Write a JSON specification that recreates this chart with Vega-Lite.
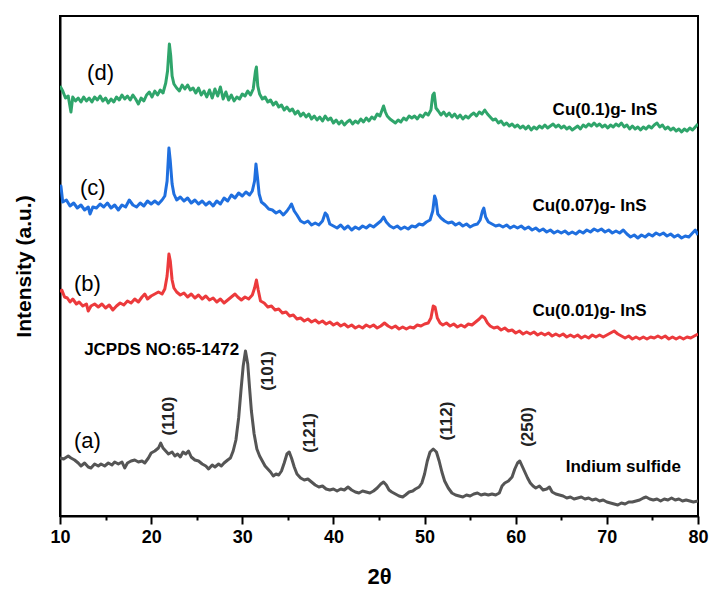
{
"$schema": "https://vega.github.io/schema/vega-lite/v6.json",
"width": 638, "height": 500,
"autosize": "none",
"padding": {"left": 60, "top": 16, "right": 15, "bottom": 77},
"background": "white",
"config": {"view": {"stroke": "black", "strokeWidth": 2}, "font": "Liberation Sans"},
"datasets": {
"curves": [
{"s":"d","t":10.0,"i":430},{"s":"d","t":10.3,"i":425},{"s":"d","t":10.6,"i":418},{"s":"d","t":10.9,"i":420},{"s":"d","t":11.2,"i":404},{"s":"d","t":11.4,"i":419},{"s":"d","t":11.7,"i":415},{"s":"d","t":12.0,"i":418},{"s":"d","t":12.3,"i":414},{"s":"d","t":12.6,"i":419},{"s":"d","t":12.9,"i":415},{"s":"d","t":13.2,"i":418},{"s":"d","t":13.5,"i":414},{"s":"d","t":13.8,"i":419},{"s":"d","t":14.1,"i":416},{"s":"d","t":14.4,"i":420},{"s":"d","t":14.7,"i":415},{"s":"d","t":15.0,"i":418},{"s":"d","t":15.3,"i":413},{"s":"d","t":15.6,"i":417},{"s":"d","t":15.9,"i":414},{"s":"d","t":16.2,"i":419},{"s":"d","t":16.5,"i":416},{"s":"d","t":16.8,"i":421},{"s":"d","t":17.1,"i":417},{"s":"d","t":17.4,"i":420},{"s":"d","t":17.7,"i":416},{"s":"d","t":18.0,"i":421},{"s":"d","t":18.3,"i":417},{"s":"d","t":18.6,"i":412},{"s":"d","t":18.9,"i":418},{"s":"d","t":19.2,"i":415},{"s":"d","t":19.5,"i":421},{"s":"d","t":19.8,"i":424},{"s":"d","t":20.1,"i":419},{"s":"d","t":20.4,"i":425},{"s":"d","t":20.7,"i":421},{"s":"d","t":21.0,"i":426},{"s":"d","t":21.3,"i":423},{"s":"d","t":21.6,"i":433},{"s":"d","t":21.8,"i":445},{"s":"d","t":22.0,"i":472},{"s":"d","t":22.15,"i":460},{"s":"d","t":22.3,"i":440},{"s":"d","t":22.5,"i":432},{"s":"d","t":22.8,"i":428},{"s":"d","t":23.1,"i":425},{"s":"d","t":23.4,"i":431},{"s":"d","t":23.7,"i":427},{"s":"d","t":24.0,"i":431},{"s":"d","t":24.3,"i":426},{"s":"d","t":24.6,"i":428},{"s":"d","t":24.9,"i":423},{"s":"d","t":25.2,"i":428},{"s":"d","t":25.5,"i":421},{"s":"d","t":25.8,"i":425},{"s":"d","t":26.1,"i":419},{"s":"d","t":26.4,"i":426},{"s":"d","t":26.7,"i":418},{"s":"d","t":27.0,"i":427},{"s":"d","t":27.3,"i":420},{"s":"d","t":27.6,"i":429},{"s":"d","t":27.9,"i":417},{"s":"d","t":28.2,"i":424},{"s":"d","t":28.5,"i":416},{"s":"d","t":28.8,"i":421},{"s":"d","t":29.1,"i":415},{"s":"d","t":29.4,"i":419},{"s":"d","t":29.7,"i":417},{"s":"d","t":30.0,"i":422},{"s":"d","t":30.3,"i":420},{"s":"d","t":30.6,"i":425},{"s":"d","t":30.9,"i":421},{"s":"d","t":31.2,"i":427},{"s":"d","t":31.45,"i":445},{"s":"d","t":31.55,"i":449},{"s":"d","t":31.7,"i":430},{"s":"d","t":31.9,"i":422},{"s":"d","t":32.2,"i":417},{"s":"d","t":32.5,"i":419},{"s":"d","t":32.8,"i":414},{"s":"d","t":33.1,"i":416},{"s":"d","t":33.4,"i":411},{"s":"d","t":33.7,"i":414},{"s":"d","t":34.0,"i":409},{"s":"d","t":34.3,"i":411},{"s":"d","t":34.6,"i":406},{"s":"d","t":34.9,"i":409},{"s":"d","t":35.2,"i":405},{"s":"d","t":35.5,"i":407},{"s":"d","t":35.8,"i":402},{"s":"d","t":36.1,"i":405},{"s":"d","t":36.4,"i":400},{"s":"d","t":36.7,"i":403},{"s":"d","t":37.0,"i":399},{"s":"d","t":37.3,"i":402},{"s":"d","t":37.6,"i":397},{"s":"d","t":37.9,"i":400},{"s":"d","t":38.2,"i":396},{"s":"d","t":38.5,"i":399},{"s":"d","t":38.8,"i":395},{"s":"d","t":39.1,"i":400},{"s":"d","t":39.4,"i":396},{"s":"d","t":39.7,"i":398},{"s":"d","t":40.0,"i":393},{"s":"d","t":40.3,"i":396},{"s":"d","t":40.6,"i":392},{"s":"d","t":40.9,"i":395},{"s":"d","t":41.2,"i":391},{"s":"d","t":41.5,"i":394},{"s":"d","t":41.8,"i":396},{"s":"d","t":42.1,"i":392},{"s":"d","t":42.4,"i":395},{"s":"d","t":42.7,"i":393},{"s":"d","t":43.0,"i":397},{"s":"d","t":43.3,"i":394},{"s":"d","t":43.6,"i":398},{"s":"d","t":43.9,"i":395},{"s":"d","t":44.2,"i":399},{"s":"d","t":44.5,"i":397},{"s":"d","t":44.8,"i":402},{"s":"d","t":45.1,"i":400},{"s":"d","t":45.3,"i":405},{"s":"d","t":45.5,"i":410},{"s":"d","t":45.7,"i":404},{"s":"d","t":45.9,"i":400},{"s":"d","t":46.2,"i":397},{"s":"d","t":46.5,"i":395},{"s":"d","t":46.8,"i":393},{"s":"d","t":47.1,"i":396},{"s":"d","t":47.4,"i":394},{"s":"d","t":47.7,"i":398},{"s":"d","t":48.0,"i":396},{"s":"d","t":48.3,"i":400},{"s":"d","t":48.6,"i":398},{"s":"d","t":48.9,"i":400},{"s":"d","t":49.2,"i":397},{"s":"d","t":49.5,"i":401},{"s":"d","t":49.8,"i":399},{"s":"d","t":50.1,"i":403},{"s":"d","t":50.4,"i":401},{"s":"d","t":50.7,"i":406},{"s":"d","t":50.9,"i":421},{"s":"d","t":51.05,"i":423},{"s":"d","t":51.25,"i":408},{"s":"d","t":51.5,"i":405},{"s":"d","t":51.8,"i":401},{"s":"d","t":52.1,"i":404},{"s":"d","t":52.4,"i":400},{"s":"d","t":52.7,"i":403},{"s":"d","t":53.0,"i":399},{"s":"d","t":53.3,"i":402},{"s":"d","t":53.6,"i":398},{"s":"d","t":53.9,"i":401},{"s":"d","t":54.2,"i":397},{"s":"d","t":54.5,"i":400},{"s":"d","t":54.8,"i":398},{"s":"d","t":55.1,"i":401},{"s":"d","t":55.4,"i":403},{"s":"d","t":55.7,"i":400},{"s":"d","t":56.0,"i":404},{"s":"d","t":56.3,"i":402},{"s":"d","t":56.6,"i":406},{"s":"d","t":56.9,"i":402},{"s":"d","t":57.2,"i":399},{"s":"d","t":57.5,"i":396},{"s":"d","t":57.8,"i":397},{"s":"d","t":58.1,"i":393},{"s":"d","t":58.4,"i":395},{"s":"d","t":58.7,"i":391},{"s":"d","t":59.0,"i":393},{"s":"d","t":59.3,"i":390},{"s":"d","t":59.6,"i":392},{"s":"d","t":59.9,"i":389},{"s":"d","t":60.2,"i":391},{"s":"d","t":60.5,"i":388},{"s":"d","t":60.8,"i":390},{"s":"d","t":61.1,"i":387},{"s":"d","t":61.4,"i":390},{"s":"d","t":61.7,"i":386},{"s":"d","t":62.0,"i":389},{"s":"d","t":62.3,"i":387},{"s":"d","t":62.6,"i":390},{"s":"d","t":62.9,"i":388},{"s":"d","t":63.2,"i":391},{"s":"d","t":63.5,"i":388},{"s":"d","t":63.8,"i":390},{"s":"d","t":64.1,"i":392},{"s":"d","t":64.4,"i":389},{"s":"d","t":64.7,"i":391},{"s":"d","t":65.0,"i":388},{"s":"d","t":65.3,"i":390},{"s":"d","t":65.6,"i":387},{"s":"d","t":65.9,"i":389},{"s":"d","t":66.2,"i":386},{"s":"d","t":66.5,"i":388},{"s":"d","t":66.8,"i":390},{"s":"d","t":67.1,"i":387},{"s":"d","t":67.4,"i":391},{"s":"d","t":67.7,"i":389},{"s":"d","t":68.0,"i":392},{"s":"d","t":68.3,"i":390},{"s":"d","t":68.6,"i":393},{"s":"d","t":68.9,"i":390},{"s":"d","t":69.2,"i":392},{"s":"d","t":69.5,"i":389},{"s":"d","t":69.8,"i":391},{"s":"d","t":70.1,"i":388},{"s":"d","t":70.4,"i":391},{"s":"d","t":70.7,"i":389},{"s":"d","t":71.0,"i":392},{"s":"d","t":71.3,"i":390},{"s":"d","t":71.6,"i":393},{"s":"d","t":71.9,"i":389},{"s":"d","t":72.2,"i":391},{"s":"d","t":72.5,"i":387},{"s":"d","t":72.8,"i":390},{"s":"d","t":73.1,"i":387},{"s":"d","t":73.4,"i":389},{"s":"d","t":73.7,"i":386},{"s":"d","t":74.0,"i":389},{"s":"d","t":74.3,"i":387},{"s":"d","t":74.6,"i":390},{"s":"d","t":74.9,"i":388},{"s":"d","t":75.2,"i":391},{"s":"d","t":75.5,"i":393},{"s":"d","t":75.8,"i":389},{"s":"d","t":76.1,"i":391},{"s":"d","t":76.4,"i":387},{"s":"d","t":76.7,"i":389},{"s":"d","t":77.0,"i":386},{"s":"d","t":77.3,"i":388},{"s":"d","t":77.6,"i":385},{"s":"d","t":77.9,"i":387},{"s":"d","t":78.2,"i":384},{"s":"d","t":78.5,"i":387},{"s":"d","t":78.8,"i":385},{"s":"d","t":79.1,"i":388},{"s":"d","t":79.4,"i":386},{"s":"d","t":79.7,"i":389},{"s":"d","t":80.0,"i":392},

{"s":"c","t":10.0,"i":326},{"s":"c","t":10.1,"i":330},{"s":"c","t":10.3,"i":314},{"s":"c","t":10.7,"i":316},{"s":"c","t":11.1,"i":310},{"s":"c","t":11.5,"i":313},{"s":"c","t":11.9,"i":308},{"s":"c","t":12.3,"i":311},{"s":"c","t":12.7,"i":306},{"s":"c","t":13.1,"i":309},{"s":"c","t":13.3,"i":302},{"s":"c","t":13.6,"i":309},{"s":"c","t":14.0,"i":308},{"s":"c","t":14.4,"i":312},{"s":"c","t":14.8,"i":309},{"s":"c","t":15.2,"i":313},{"s":"c","t":15.6,"i":308},{"s":"c","t":16.0,"i":311},{"s":"c","t":16.4,"i":306},{"s":"c","t":16.8,"i":311},{"s":"c","t":17.2,"i":309},{"s":"c","t":17.6,"i":316},{"s":"c","t":18.0,"i":311},{"s":"c","t":18.4,"i":309},{"s":"c","t":18.8,"i":313},{"s":"c","t":19.2,"i":310},{"s":"c","t":19.6,"i":315},{"s":"c","t":20.0,"i":312},{"s":"c","t":20.4,"i":315},{"s":"c","t":20.8,"i":312},{"s":"c","t":21.2,"i":316},{"s":"c","t":21.5,"i":320},{"s":"c","t":21.75,"i":335},{"s":"c","t":21.95,"i":368},{"s":"c","t":22.1,"i":355},{"s":"c","t":22.3,"i":332},{"s":"c","t":22.5,"i":322},{"s":"c","t":22.8,"i":316},{"s":"c","t":23.2,"i":319},{"s":"c","t":23.6,"i":315},{"s":"c","t":24.0,"i":318},{"s":"c","t":24.4,"i":313},{"s":"c","t":24.8,"i":316},{"s":"c","t":25.2,"i":312},{"s":"c","t":25.6,"i":315},{"s":"c","t":26.0,"i":311},{"s":"c","t":26.4,"i":314},{"s":"c","t":26.8,"i":310},{"s":"c","t":27.2,"i":315},{"s":"c","t":27.6,"i":312},{"s":"c","t":28.0,"i":318},{"s":"c","t":28.4,"i":315},{"s":"c","t":28.8,"i":321},{"s":"c","t":29.2,"i":318},{"s":"c","t":29.6,"i":323},{"s":"c","t":30.0,"i":320},{"s":"c","t":30.4,"i":324},{"s":"c","t":30.8,"i":321},{"s":"c","t":31.1,"i":325},{"s":"c","t":31.35,"i":335},{"s":"c","t":31.5,"i":352},{"s":"c","t":31.65,"i":340},{"s":"c","t":31.85,"i":322},{"s":"c","t":32.1,"i":314},{"s":"c","t":32.5,"i":311},{"s":"c","t":32.9,"i":307},{"s":"c","t":33.3,"i":306},{"s":"c","t":33.7,"i":303},{"s":"c","t":34.1,"i":305},{"s":"c","t":34.5,"i":301},{"s":"c","t":34.9,"i":305},{"s":"c","t":35.2,"i":309},{"s":"c","t":35.4,"i":312},{"s":"c","t":35.7,"i":305},{"s":"c","t":36.0,"i":301},{"s":"c","t":36.4,"i":295},{"s":"c","t":36.8,"i":293},{"s":"c","t":37.2,"i":295},{"s":"c","t":37.6,"i":291},{"s":"c","t":38.0,"i":293},{"s":"c","t":38.4,"i":291},{"s":"c","t":38.8,"i":295},{"s":"c","t":39.1,"i":303},{"s":"c","t":39.3,"i":301},{"s":"c","t":39.6,"i":292},{"s":"c","t":40.0,"i":290},{"s":"c","t":40.4,"i":288},{"s":"c","t":40.8,"i":291},{"s":"c","t":41.2,"i":287},{"s":"c","t":41.6,"i":290},{"s":"c","t":42.0,"i":286},{"s":"c","t":42.4,"i":289},{"s":"c","t":42.8,"i":287},{"s":"c","t":43.2,"i":290},{"s":"c","t":43.6,"i":288},{"s":"c","t":44.0,"i":291},{"s":"c","t":44.4,"i":289},{"s":"c","t":44.8,"i":292},{"s":"c","t":45.2,"i":295},{"s":"c","t":45.5,"i":299},{"s":"c","t":45.8,"i":294},{"s":"c","t":46.2,"i":290},{"s":"c","t":46.6,"i":288},{"s":"c","t":47.0,"i":290},{"s":"c","t":47.4,"i":287},{"s":"c","t":47.8,"i":289},{"s":"c","t":48.2,"i":287},{"s":"c","t":48.6,"i":290},{"s":"c","t":49.0,"i":289},{"s":"c","t":49.4,"i":292},{"s":"c","t":49.8,"i":291},{"s":"c","t":50.2,"i":294},{"s":"c","t":50.6,"i":296},{"s":"c","t":50.9,"i":305},{"s":"c","t":51.1,"i":320},{"s":"c","t":51.25,"i":316},{"s":"c","t":51.45,"i":302},{"s":"c","t":51.8,"i":298},{"s":"c","t":52.2,"i":295},{"s":"c","t":52.6,"i":293},{"s":"c","t":53.0,"i":294},{"s":"c","t":53.4,"i":291},{"s":"c","t":53.8,"i":293},{"s":"c","t":54.2,"i":290},{"s":"c","t":54.6,"i":292},{"s":"c","t":55.0,"i":289},{"s":"c","t":55.4,"i":291},{"s":"c","t":55.8,"i":292},{"s":"c","t":56.1,"i":296},{"s":"c","t":56.35,"i":305},{"s":"c","t":56.5,"i":308},{"s":"c","t":56.7,"i":299},{"s":"c","t":57.0,"i":294},{"s":"c","t":57.4,"i":292},{"s":"c","t":57.8,"i":290},{"s":"c","t":58.2,"i":291},{"s":"c","t":58.6,"i":289},{"s":"c","t":59.0,"i":291},{"s":"c","t":59.4,"i":288},{"s":"c","t":59.8,"i":290},{"s":"c","t":60.2,"i":288},{"s":"c","t":60.6,"i":290},{"s":"c","t":61.0,"i":287},{"s":"c","t":61.4,"i":289},{"s":"c","t":61.8,"i":286},{"s":"c","t":62.2,"i":288},{"s":"c","t":62.6,"i":285},{"s":"c","t":63.0,"i":287},{"s":"c","t":63.4,"i":284},{"s":"c","t":63.8,"i":286},{"s":"c","t":64.2,"i":283},{"s":"c","t":64.6,"i":285},{"s":"c","t":65.0,"i":283},{"s":"c","t":65.4,"i":285},{"s":"c","t":65.8,"i":282},{"s":"c","t":66.2,"i":284},{"s":"c","t":66.6,"i":282},{"s":"c","t":67.0,"i":285},{"s":"c","t":67.4,"i":283},{"s":"c","t":67.8,"i":286},{"s":"c","t":68.2,"i":284},{"s":"c","t":68.6,"i":287},{"s":"c","t":69.0,"i":285},{"s":"c","t":69.4,"i":287},{"s":"c","t":69.8,"i":284},{"s":"c","t":70.2,"i":286},{"s":"c","t":70.6,"i":283},{"s":"c","t":71.0,"i":285},{"s":"c","t":71.4,"i":283},{"s":"c","t":71.8,"i":286},{"s":"c","t":72.2,"i":282},{"s":"c","t":72.6,"i":279},{"s":"c","t":73.0,"i":281},{"s":"c","t":73.4,"i":278},{"s":"c","t":73.8,"i":281},{"s":"c","t":74.2,"i":279},{"s":"c","t":74.6,"i":282},{"s":"c","t":75.0,"i":280},{"s":"c","t":75.4,"i":283},{"s":"c","t":75.8,"i":281},{"s":"c","t":76.2,"i":283},{"s":"c","t":76.6,"i":280},{"s":"c","t":77.0,"i":282},{"s":"c","t":77.4,"i":279},{"s":"c","t":77.8,"i":281},{"s":"c","t":78.2,"i":278},{"s":"c","t":78.6,"i":280},{"s":"c","t":79.0,"i":279},{"s":"c","t":79.4,"i":283},{"s":"c","t":79.7,"i":286},{"s":"c","t":80.0,"i":281},

{"s":"b","t":10.0,"i":224},{"s":"b","t":10.2,"i":226},{"s":"b","t":10.5,"i":219},{"s":"b","t":10.8,"i":218},{"s":"b","t":11.1,"i":214},{"s":"b","t":11.4,"i":217},{"s":"b","t":11.8,"i":212},{"s":"b","t":12.1,"i":214},{"s":"b","t":12.5,"i":210},{"s":"b","t":12.9,"i":212},{"s":"b","t":13.1,"i":205},{"s":"b","t":13.4,"i":210},{"s":"b","t":13.8,"i":212},{"s":"b","t":14.2,"i":209},{"s":"b","t":14.6,"i":212},{"s":"b","t":15.0,"i":208},{"s":"b","t":15.4,"i":211},{"s":"b","t":15.8,"i":206},{"s":"b","t":16.2,"i":210},{"s":"b","t":16.6,"i":213},{"s":"b","t":17.0,"i":211},{"s":"b","t":17.4,"i":215},{"s":"b","t":17.8,"i":213},{"s":"b","t":18.2,"i":217},{"s":"b","t":18.6,"i":214},{"s":"b","t":19.0,"i":219},{"s":"b","t":19.3,"i":222},{"s":"b","t":19.6,"i":217},{"s":"b","t":20.0,"i":220},{"s":"b","t":20.4,"i":222},{"s":"b","t":20.8,"i":224},{"s":"b","t":21.2,"i":222},{"s":"b","t":21.5,"i":227},{"s":"b","t":21.75,"i":240},{"s":"b","t":21.95,"i":262},{"s":"b","t":22.1,"i":255},{"s":"b","t":22.3,"i":236},{"s":"b","t":22.5,"i":228},{"s":"b","t":22.8,"i":224},{"s":"b","t":23.2,"i":221},{"s":"b","t":23.6,"i":223},{"s":"b","t":24.0,"i":219},{"s":"b","t":24.4,"i":222},{"s":"b","t":24.8,"i":218},{"s":"b","t":25.2,"i":221},{"s":"b","t":25.6,"i":217},{"s":"b","t":26.0,"i":220},{"s":"b","t":26.4,"i":216},{"s":"b","t":26.8,"i":218},{"s":"b","t":27.2,"i":214},{"s":"b","t":27.6,"i":217},{"s":"b","t":28.0,"i":213},{"s":"b","t":28.4,"i":216},{"s":"b","t":28.8,"i":219},{"s":"b","t":29.2,"i":222},{"s":"b","t":29.5,"i":219},{"s":"b","t":29.9,"i":216},{"s":"b","t":30.3,"i":219},{"s":"b","t":30.7,"i":217},{"s":"b","t":31.1,"i":221},{"s":"b","t":31.35,"i":228},{"s":"b","t":31.55,"i":236},{"s":"b","t":31.75,"i":226},{"s":"b","t":32.0,"i":215},{"s":"b","t":32.4,"i":213},{"s":"b","t":32.8,"i":209},{"s":"b","t":33.2,"i":210},{"s":"b","t":33.6,"i":206},{"s":"b","t":34.0,"i":207},{"s":"b","t":34.4,"i":203},{"s":"b","t":34.8,"i":204},{"s":"b","t":35.2,"i":200},{"s":"b","t":35.6,"i":201},{"s":"b","t":36.0,"i":197},{"s":"b","t":36.4,"i":198},{"s":"b","t":36.8,"i":195},{"s":"b","t":37.2,"i":197},{"s":"b","t":37.6,"i":194},{"s":"b","t":38.0,"i":196},{"s":"b","t":38.4,"i":193},{"s":"b","t":38.8,"i":195},{"s":"b","t":39.2,"i":192},{"s":"b","t":39.6,"i":194},{"s":"b","t":40.0,"i":191},{"s":"b","t":40.4,"i":193},{"s":"b","t":40.8,"i":190},{"s":"b","t":41.2,"i":192},{"s":"b","t":41.6,"i":189},{"s":"b","t":42.0,"i":191},{"s":"b","t":42.4,"i":188},{"s":"b","t":42.8,"i":190},{"s":"b","t":43.2,"i":188},{"s":"b","t":43.6,"i":191},{"s":"b","t":44.0,"i":189},{"s":"b","t":44.4,"i":191},{"s":"b","t":44.8,"i":188},{"s":"b","t":45.2,"i":190},{"s":"b","t":45.6,"i":193},{"s":"b","t":46.0,"i":190},{"s":"b","t":46.4,"i":188},{"s":"b","t":46.8,"i":190},{"s":"b","t":47.2,"i":187},{"s":"b","t":47.6,"i":189},{"s":"b","t":48.0,"i":187},{"s":"b","t":48.4,"i":189},{"s":"b","t":48.8,"i":188},{"s":"b","t":49.2,"i":191},{"s":"b","t":49.6,"i":190},{"s":"b","t":50.0,"i":192},{"s":"b","t":50.4,"i":193},{"s":"b","t":50.7,"i":198},{"s":"b","t":50.95,"i":210},{"s":"b","t":51.15,"i":209},{"s":"b","t":51.4,"i":198},{"s":"b","t":51.7,"i":193},{"s":"b","t":52.0,"i":191},{"s":"b","t":52.4,"i":193},{"s":"b","t":52.8,"i":190},{"s":"b","t":53.2,"i":192},{"s":"b","t":53.6,"i":189},{"s":"b","t":54.0,"i":191},{"s":"b","t":54.4,"i":189},{"s":"b","t":54.8,"i":192},{"s":"b","t":55.2,"i":191},{"s":"b","t":55.6,"i":194},{"s":"b","t":56.0,"i":197},{"s":"b","t":56.3,"i":200},{"s":"b","t":56.6,"i":198},{"s":"b","t":56.9,"i":193},{"s":"b","t":57.2,"i":190},{"s":"b","t":57.6,"i":188},{"s":"b","t":58.0,"i":189},{"s":"b","t":58.4,"i":186},{"s":"b","t":58.8,"i":188},{"s":"b","t":59.2,"i":185},{"s":"b","t":59.6,"i":186},{"s":"b","t":60.0,"i":183},{"s":"b","t":60.4,"i":185},{"s":"b","t":60.8,"i":182},{"s":"b","t":61.2,"i":184},{"s":"b","t":61.6,"i":182},{"s":"b","t":62.0,"i":184},{"s":"b","t":62.4,"i":181},{"s":"b","t":62.8,"i":183},{"s":"b","t":63.2,"i":181},{"s":"b","t":63.6,"i":183},{"s":"b","t":64.0,"i":180},{"s":"b","t":64.4,"i":182},{"s":"b","t":64.8,"i":180},{"s":"b","t":65.2,"i":182},{"s":"b","t":65.6,"i":179},{"s":"b","t":66.0,"i":181},{"s":"b","t":66.4,"i":179},{"s":"b","t":66.8,"i":181},{"s":"b","t":67.2,"i":178},{"s":"b","t":67.6,"i":180},{"s":"b","t":68.0,"i":178},{"s":"b","t":68.4,"i":181},{"s":"b","t":68.8,"i":179},{"s":"b","t":69.2,"i":181},{"s":"b","t":69.6,"i":179},{"s":"b","t":70.0,"i":181},{"s":"b","t":70.4,"i":183},{"s":"b","t":70.8,"i":185},{"s":"b","t":71.2,"i":182},{"s":"b","t":71.6,"i":180},{"s":"b","t":72.0,"i":178},{"s":"b","t":72.4,"i":180},{"s":"b","t":72.8,"i":177},{"s":"b","t":73.2,"i":179},{"s":"b","t":73.6,"i":177},{"s":"b","t":74.0,"i":179},{"s":"b","t":74.4,"i":177},{"s":"b","t":74.8,"i":179},{"s":"b","t":75.2,"i":178},{"s":"b","t":75.6,"i":180},{"s":"b","t":76.0,"i":178},{"s":"b","t":76.4,"i":180},{"s":"b","t":76.8,"i":177},{"s":"b","t":77.2,"i":179},{"s":"b","t":77.6,"i":177},{"s":"b","t":78.0,"i":179},{"s":"b","t":78.4,"i":177},{"s":"b","t":78.8,"i":179},{"s":"b","t":79.2,"i":178},{"s":"b","t":79.6,"i":180},{"s":"b","t":80.0,"i":182},

{"s":"a","t":10.0,"i":58},{"s":"a","t":10.4,"i":57},{"s":"a","t":10.9,"i":60},{"s":"a","t":11.2,"i":58},{"s":"a","t":11.6,"i":56},{"s":"a","t":12.0,"i":53},{"s":"a","t":12.3,"i":50},{"s":"a","t":12.7,"i":53},{"s":"a","t":13.1,"i":49},{"s":"a","t":13.4,"i":48},{"s":"a","t":13.8,"i":52},{"s":"a","t":14.2,"i":50},{"s":"a","t":14.5,"i":52},{"s":"a","t":14.9,"i":50},{"s":"a","t":15.3,"i":53},{"s":"a","t":15.7,"i":51},{"s":"a","t":16.0,"i":54},{"s":"a","t":16.4,"i":52},{"s":"a","t":16.8,"i":54},{"s":"a","t":17.1,"i":48},{"s":"a","t":17.4,"i":53},{"s":"a","t":17.8,"i":55},{"s":"a","t":18.2,"i":56},{"s":"a","t":18.6,"i":54},{"s":"a","t":19.0,"i":55},{"s":"a","t":19.3,"i":53},{"s":"a","t":19.7,"i":58},{"s":"a","t":20.0,"i":63},{"s":"a","t":20.4,"i":65},{"s":"a","t":20.8,"i":68},{"s":"a","t":21.05,"i":73},{"s":"a","t":21.3,"i":68},{"s":"a","t":21.6,"i":65},{"s":"a","t":21.9,"i":62},{"s":"a","t":22.3,"i":64},{"s":"a","t":22.6,"i":60},{"s":"a","t":22.9,"i":62},{"s":"a","t":23.2,"i":59},{"s":"a","t":23.5,"i":64},{"s":"a","t":23.8,"i":62},{"s":"a","t":24.1,"i":65},{"s":"a","t":24.4,"i":59},{"s":"a","t":24.8,"i":56},{"s":"a","t":25.2,"i":55},{"s":"a","t":25.6,"i":52},{"s":"a","t":26.0,"i":50},{"s":"a","t":26.3,"i":47},{"s":"a","t":26.7,"i":51},{"s":"a","t":27.0,"i":49},{"s":"a","t":27.4,"i":52},{"s":"a","t":27.7,"i":50},{"s":"a","t":28.0,"i":53},{"s":"a","t":28.4,"i":56},{"s":"a","t":28.7,"i":58},{"s":"a","t":29.0,"i":65},{"s":"a","t":29.3,"i":76},{"s":"a","t":29.6,"i":98},{"s":"a","t":29.85,"i":125},{"s":"a","t":30.1,"i":150},{"s":"a","t":30.35,"i":165},{"s":"a","t":30.6,"i":152},{"s":"a","t":30.8,"i":128},{"s":"a","t":31.0,"i":105},{"s":"a","t":31.3,"i":82},{"s":"a","t":31.6,"i":67},{"s":"a","t":31.9,"i":60},{"s":"a","t":32.2,"i":55},{"s":"a","t":32.5,"i":50},{"s":"a","t":32.8,"i":47},{"s":"a","t":33.1,"i":44},{"s":"a","t":33.4,"i":40},{"s":"a","t":33.7,"i":42},{"s":"a","t":34.0,"i":41},{"s":"a","t":34.3,"i":45},{"s":"a","t":34.6,"i":53},{"s":"a","t":34.9,"i":62},{"s":"a","t":35.15,"i":64},{"s":"a","t":35.4,"i":58},{"s":"a","t":35.7,"i":49},{"s":"a","t":36.0,"i":42},{"s":"a","t":36.4,"i":38},{"s":"a","t":36.8,"i":36},{"s":"a","t":37.2,"i":37},{"s":"a","t":37.6,"i":34},{"s":"a","t":38.0,"i":31},{"s":"a","t":38.4,"i":29},{"s":"a","t":38.8,"i":30},{"s":"a","t":39.2,"i":27},{"s":"a","t":39.6,"i":26},{"s":"a","t":40.0,"i":27},{"s":"a","t":40.4,"i":25},{"s":"a","t":40.8,"i":27},{"s":"a","t":41.2,"i":26},{"s":"a","t":41.6,"i":29},{"s":"a","t":42.0,"i":26},{"s":"a","t":42.4,"i":24},{"s":"a","t":42.8,"i":23},{"s":"a","t":43.2,"i":25},{"s":"a","t":43.6,"i":24},{"s":"a","t":44.0,"i":23},{"s":"a","t":44.4,"i":25},{"s":"a","t":44.8,"i":28},{"s":"a","t":45.2,"i":32},{"s":"a","t":45.5,"i":34},{"s":"a","t":45.8,"i":31},{"s":"a","t":46.1,"i":26},{"s":"a","t":46.4,"i":24},{"s":"a","t":46.8,"i":22},{"s":"a","t":47.2,"i":20},{"s":"a","t":47.6,"i":19},{"s":"a","t":47.9,"i":21},{"s":"a","t":48.3,"i":24},{"s":"a","t":48.7,"i":25},{"s":"a","t":49.0,"i":27},{"s":"a","t":49.4,"i":29},{"s":"a","t":49.7,"i":33},{"s":"a","t":50.0,"i":42},{"s":"a","t":50.3,"i":55},{"s":"a","t":50.6,"i":64},{"s":"a","t":50.95,"i":67},{"s":"a","t":51.3,"i":64},{"s":"a","t":51.6,"i":55},{"s":"a","t":51.9,"i":44},{"s":"a","t":52.2,"i":35},{"s":"a","t":52.6,"i":28},{"s":"a","t":53.0,"i":23},{"s":"a","t":53.4,"i":21},{"s":"a","t":53.8,"i":20},{"s":"a","t":54.2,"i":19},{"s":"a","t":54.6,"i":21},{"s":"a","t":55.0,"i":20},{"s":"a","t":55.4,"i":22},{"s":"a","t":55.8,"i":23},{"s":"a","t":56.2,"i":21},{"s":"a","t":56.6,"i":22},{"s":"a","t":57.0,"i":21},{"s":"a","t":57.4,"i":22},{"s":"a","t":57.8,"i":21},{"s":"a","t":58.2,"i":23},{"s":"a","t":58.5,"i":30},{"s":"a","t":58.8,"i":33},{"s":"a","t":59.2,"i":35},{"s":"a","t":59.6,"i":39},{"s":"a","t":59.9,"i":47},{"s":"a","t":60.2,"i":53},{"s":"a","t":60.45,"i":55},{"s":"a","t":60.7,"i":50},{"s":"a","t":61.0,"i":44},{"s":"a","t":61.3,"i":38},{"s":"a","t":61.6,"i":33},{"s":"a","t":61.9,"i":30},{"s":"a","t":62.2,"i":28},{"s":"a","t":62.6,"i":30},{"s":"a","t":63.0,"i":26},{"s":"a","t":63.4,"i":27},{"s":"a","t":63.7,"i":29},{"s":"a","t":64.0,"i":24},{"s":"a","t":64.4,"i":22},{"s":"a","t":64.8,"i":21},{"s":"a","t":65.2,"i":20},{"s":"a","t":65.6,"i":18},{"s":"a","t":66.0,"i":19},{"s":"a","t":66.4,"i":17},{"s":"a","t":66.8,"i":18},{"s":"a","t":67.2,"i":19},{"s":"a","t":67.6,"i":17},{"s":"a","t":68.0,"i":18},{"s":"a","t":68.4,"i":16},{"s":"a","t":68.8,"i":17},{"s":"a","t":69.2,"i":15},{"s":"a","t":69.6,"i":16},{"s":"a","t":70.0,"i":14},{"s":"a","t":70.4,"i":13},{"s":"a","t":70.8,"i":12},{"s":"a","t":71.2,"i":11},{"s":"a","t":71.6,"i":13},{"s":"a","t":72.0,"i":12},{"s":"a","t":72.4,"i":14},{"s":"a","t":72.8,"i":14},{"s":"a","t":73.2,"i":15},{"s":"a","t":73.6,"i":16},{"s":"a","t":74.0,"i":18},{"s":"a","t":74.3,"i":19},{"s":"a","t":74.7,"i":17},{"s":"a","t":75.1,"i":16},{"s":"a","t":75.5,"i":17},{"s":"a","t":75.9,"i":15},{"s":"a","t":76.3,"i":17},{"s":"a","t":76.7,"i":16},{"s":"a","t":77.1,"i":18},{"s":"a","t":77.5,"i":16},{"s":"a","t":77.9,"i":17},{"s":"a","t":78.3,"i":15},{"s":"a","t":78.7,"i":16},{"s":"a","t":79.1,"i":15},{"s":"a","t":79.5,"i":14},{"s":"a","t":80.0,"i":15}
],
"letters": [
{"label":"(d)","t":14.45,"i":443},{"label":"(c)","t":13.6,"i":328},{"label":"(b)","t":13.0,"i":232},{"label":"(a)","t":13.0,"i":75}
],
"names": [
{"label":"Cu(0.1)g- InS","t":69.8,"i":406},{"label":"Cu(0.07)g- InS","t":68.1,"i":310},{"label":"Cu(0.01)g- InS","t":68.1,"i":205},{"label":"Indium sulfide","t":71.8,"i":49},{"label":"JCPDS NO:65-1472","t":21.15,"i":166}
],
"hkl": [
{"label":"(110)","t":22.0,"i":100},{"label":"(101)","t":32.8,"i":145},{"label":"(121)","t":37.4,"i":83},{"label":"(112)","t":52.5,"i":95},{"label":"(250)","t":61.3,"i":89}
]
},
"layer": [
{
"data": {"name": "curves"},
"mark": {"type": "line", "strokeWidth": 3, "strokeJoin": "round", "clip": true},
"encoding": {
"x": {"field": "t", "type": "quantitative", "scale": {"domain": [10, 80], "nice": false, "zero": false},
"axis": {"values": [10,15,20,25,30,35,40,45,50,55,60,65,70,75,80], "labelExpr": "datum.value % 10 === 0 ? datum.label : ''", "grid": false, "domainColor": "black", "domainWidth": 2, "tickColor": "black", "tickWidth": 2, "tickSize": {"condition": {"test": "datum.value % 10 === 0", "value": 8}, "value": 4}, "labelFont": "Liberation Sans", "labelFontSize": 18, "labelFontWeight": "bold", "labelColor": "black", "labelPadding": 4, "labelFlush": false, "title": "2θ", "titleFont": "Liberation Sans", "titleFontSize": 22, "titleFontWeight": "bold", "titleColor": "black", "titlePadding": 20}},
"y": {"field": "i", "type": "quantitative", "scale": {"domain": [0, 500], "nice": false, "zero": false},
"axis": {"labels": false, "ticks": false, "grid": false, "domainColor": "black", "domainWidth": 2, "title": "Intensity (a.u.)", "titleFont": "Liberation Sans", "titleFontSize": 21, "titleFontWeight": "bold", "titleColor": "black", "titlePadding": 26}},
"color": {"field": "s", "type": "nominal", "legend": null, "scale": {"domain": ["a","b","c","d"], "range": ["#555555","#ec3a3c","#1f6fdf","#2fa56b"]}},
"detail": {"field": "s"}
}
},
{
"data": {"name": "letters"},
"mark": {"type": "text", "font": "Liberation Sans", "fontSize": 22, "align": "center", "baseline": "middle", "color": "black"},
"encoding": {"x": {"field": "t", "type": "quantitative"}, "y": {"field": "i", "type": "quantitative"}, "text": {"field": "label"}}
},
{
"data": {"name": "names"},
"mark": {"type": "text", "font": "Liberation Sans", "fontSize": 17, "fontWeight": "bold", "align": "center", "baseline": "middle", "color": "black"},
"encoding": {"x": {"field": "t", "type": "quantitative"}, "y": {"field": "i", "type": "quantitative"}, "text": {"field": "label"}}
},
{
"data": {"name": "hkl"},
"mark": {"type": "text", "font": "Liberation Sans", "fontSize": 17, "fontWeight": "bold", "angle": 270, "align": "center", "baseline": "middle", "color": "#222222"},
"encoding": {"x": {"field": "t", "type": "quantitative"}, "y": {"field": "i", "type": "quantitative"}, "text": {"field": "label"}}
}
]
}
